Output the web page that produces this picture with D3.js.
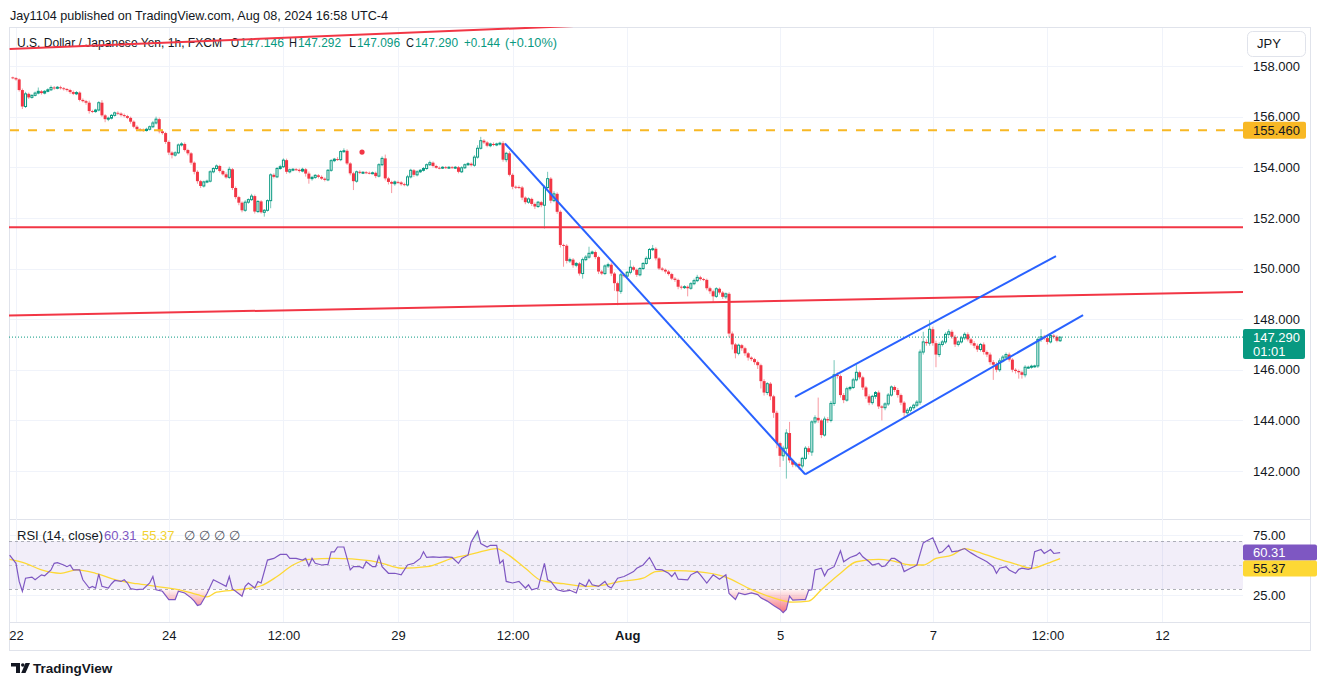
<!DOCTYPE html>
<html><head><meta charset="utf-8">
<script src="https://cdn.jsdelivr.net/npm/d3@7"></script>
<style>
body{margin:0;background:#fff;}
svg{display:block;font-family:"Liberation Sans",Arial,sans-serif;}
</style>
</head><body>
<svg id="chart" width="1320" height="685"></svg>
<script>
// ---------------- DATA ----------------
// hourly bars, index 0 = Jul 22 00:00 (UTC-4), weekends skipped
const firstBar = -1;
const firstOpen = 157.55;
const closes = [
157.52,157.47,157.05,156.40,156.90,156.76,156.84,156.93,157.00,156.93,
157.00,157.06,157.15,157.12,157.16,157.12,157.09,157.05,156.97,156.90,
156.95,156.66,156.61,156.55,156.22,156.20,156.26,156.55,156.05,155.90,
155.94,156.05,156.15,156.12,156.06,156.02,155.95,155.80,155.60,155.50,
155.48,155.45,155.50,155.60,155.75,155.90,155.42,155.35,155.00,154.58,
154.48,154.57,154.88,154.92,154.68,154.55,154.18,153.82,153.45,153.26,
153.42,153.45,153.82,153.95,154.05,153.85,153.72,153.60,153.92,153.18,
152.82,152.60,152.30,152.62,152.72,152.86,152.25,152.65,152.22,152.30,
152.68,153.70,153.62,153.95,154.02,154.28,153.82,153.90,153.92,153.90,
153.85,153.92,153.75,153.55,153.60,153.68,153.62,153.55,153.50,153.88,
154.26,154.32,154.30,154.62,154.65,154.15,153.76,153.45,153.82,153.78,
153.80,153.78,153.77,153.78,153.65,154.10,154.35,153.56,153.42,153.35,
153.42,153.40,153.33,153.30,153.62,153.88,153.70,153.82,153.88,153.95,
154.10,154.18,154.05,153.98,153.97,154.00,153.98,154.00,153.99,154.00,
153.82,153.98,154.10,154.14,154.08,154.40,154.75,155.05,154.98,154.85,
154.92,154.88,154.92,154.95,154.30,154.55,153.70,153.23,153.22,153.20,
152.80,152.62,152.75,152.55,152.45,152.62,152.50,153.20,153.55,152.68,
152.95,152.24,150.93,150.90,150.30,150.35,150.13,150.20,149.80,150.35,
150.45,150.60,150.65,150.45,149.88,149.80,150.10,150.15,149.80,149.42,
149.10,149.75,149.70,149.85,150.05,149.95,149.75,150.00,150.20,150.40,
150.75,150.78,150.40,150.00,149.95,149.88,149.78,149.60,149.55,149.28,
149.25,149.28,149.22,149.40,149.52,149.65,149.58,149.55,149.22,149.10,
148.90,149.20,149.05,148.88,149.00,147.43,147.00,146.65,146.97,146.85,
146.65,146.48,146.42,146.30,146.18,145.55,145.10,145.45,144.95,144.30,
143.10,142.60,142.90,143.50,142.42,142.25,142.28,142.20,142.50,142.90,
142.75,143.94,144.10,144.00,143.42,144.05,144.00,144.67,145.80,145.75,
145.00,144.80,145.25,145.30,145.60,145.90,145.70,145.30,144.95,144.70,
144.95,145.10,144.55,144.50,144.65,145.00,145.32,145.20,145.00,144.70,
144.30,144.40,144.50,144.60,144.72,146.70,147.10,147.05,147.60,147.05,
146.60,147.00,147.10,147.40,147.50,147.30,147.00,147.10,147.26,147.40,
147.20,147.05,146.95,146.80,147.00,146.70,146.60,146.30,146.20,146.00,
146.35,146.50,146.60,146.40,146.00,145.95,145.90,145.80,146.10,146.10,
146.14,146.15,147.20,147.30,147.25,147.10,147.35,147.30,147.146,147.290
];
// wick lengths above / below the body, in pips (0.01 JPY)
const upperWick = [
3,4,4,6,8,5,4,6,15,5, 5,6,8,6,5,6,5,4,5,6, 6,5,6,5,8,5,5,6,10,5, 6,5,5,6,5,6,5,5,5,6,
5,5,6,5,8,10,6,5,5,6, 5,6,6,7,6,5,5,5,6,5, 5,6,6,5,6,5,5,8,10,5, 6,5,5,8,5,9,6,5,5,5,
5,6,6,6,8,7,6,5,5,5, 5,6,5,8,6,5,5,6,5,5, 6,5,8,6,10,6,5,6,5,6, 5,5,5,5,5,6,8,15,6,5,
6,5,5,6,8,6,5,6,5,6, 5,8,5,5,5,4,5,4,5,5, 5,6,5,6,5,8,12,15,6,5, 5,6,5,6,8,6,8,6,5,6,
6,5,6,5,6,5,5,8,27,6, 10,6,6,5,6,8,6,6,6,8, 8,26,6,6,5,6,6,8,8,6, 6,8,6,5,28,6,5,6,5,8,
6,15,6,5,6,5,6,5,6,5, 5,6,5,6,8,10,6,5,5,6, 6,6,5,6,5,6,8,6,6,5, 6,5,5,5,6,6,8,6,6,6,
8,6,10,15,44,6,8,6,6,8, 8,6,10,80,6,10,8,10,58,10, 6,8,8,6,8,30,6,6,6,8, 6,6,8,5,6,8,6,6,8,6,
6,8,6,6,8,10,40,10,36,10, 10,8,8,8,10,8,8,6,8,8, 8,6,8,8,6,8,6,8,8,10, 10,8,8,8,6,6,6,6,8,6,
6,5,8,30,8,8,8,6,6,0.2
];
const lowerWick = [
4,5,6,10,6,6,5,4,5,6, 5,4,5,6,4,5,6,6,7,5, 5,6,5,8,10,6,5,5,6,12, 8,5,5,6,6,5,5,8,6,7,
6,5,4,5,5,6,8,6,8,10, 13,6,5,6,6,8,8,10,10,8, 6,5,5,6,5,6,5,5,6,8, 8,10,8,6,6,5,8,6,5,17,
5,30,6,5,5,5,8,6,6,5, 6,5,12,20,8,6,6,5,6,5, 6,6,5,6,5,6,8,35,6,5, 5,5,5,5,8,5,6,8,10,37,
8,6,6,5,6,6,8,6,5,5, 5,5,6,4,5,4,5,4,5,6, 6,5,5,5,5,6,6,5,6,6, 6,5,5,6,8,10,6,10,8,6,
10,8,6,8,10,6,8,92,8,10, 6,8,10,83,10,8,10,8,8,20, 6,6,5,8,10,6,6,8,10,30, 55,10,6,6,8,6,8,6,6,5,
6,6,8,6,6,8,6,6,8,10, 8,6,32,6,6,6,6,5,8,10, 22,6,8,8,8,15,20,20,8,10, 10,12,8,10,15,29,12,10,15,20,
20,44,20,120,10,10,10,15,10,6, 10,15,8,10,12,6,10,8,10,10, 10,12,6,8,6,6,8,10,10,10, 8,10,10,50,10,8,6,8,10,10,
16,10,8,8,8,10,10,10,10,10, 50,10,8,8,6,8,10,8,6,8, 8,8,10,10,8,10,10,10,60,10, 8,6,6,8,10,10,25,15,10,6,
6,6,8,10,8,10,6,8,6,5
];

const priceTicks = [142,144,146,148,150,152,154,156,158];
const timeTickBars = [0,48,84,120,156,192,240,288,324,360];
const timeTickLabels = ["22","24","12:00","29","12:00","Aug","5","7","12:00","12"];

// RSI(14)
const rsiBars = [
-2,0,1,2,3,5,6,8,9,11, 12,13,15,16,17,18,20,21,23,24, 25,26,27,29,30,31,33,34,35,36,
38,40,42,43,44,46,48,50,51,53, 55,56,57,58,60,62,64,66,67,68, 69,71,72,73,75,76,77,79,81,83,
85,86,88,90,91,92,93,94,96,98, 99,100,101,103,104,105,106,108,109,110, 112,113,114,115,117,119,121,123,125,127,
128,129,131,133,135,137,139,140,142,143, 145,146,148,149,151,152,153,154,156,158, 160,161,162,164,166,167,168,170,172,174,
176,177,179,180,181,183,185,186,187,189, 191,193,194,195,197,199,200,201,203,205, 206,207,208,211,212,214,215,217,219,221,
223,224,226,227,229,231,233,234,236,238, 240,241,242,243,244,247,248,249,250,251, 253,254,255,257,259,260,262,264,265,266,
268,269,271,272,273,275,276,278,279,281, 282,283,285,286,288,290,291,293,294,296, 298,300,302,304,305,307,308,309,311,312,
314,315,316,318,319,320,322,323,325,326, 328
];
const rsiValues = [
58.2,51.4,36.3,28.1,39.0,39.9,37.7,41.8,41.0,45.9, 51.4,51.9,50.0,48.6,50.0,45.9,45.9,37.7,30.8,32.2, 30.8,42.6,32.2,30.8,34.4,37.1,36.3,37.7,35.0,30.3,
29.4,30.0,35.0,40.4,29.4,28.1,21.2,21.2,28.1,26.7, 22.6,19.9,16.3,17.1,26.2,37.7,35.0,32.2,40.4,30.0, 28.1,24.0,32.2,35.0,30.8,36.3,35.0,54.1,55.5,58.8,
58.8,55.5,55.5,54.1,55.5,49.2,55.5,51.4,50.0,50.5, 61.0,61.0,65.0,65.0,55.5,45.9,48.6,48.6,47.3,52.7, 48.6,48.6,57.4,48.6,43.1,43.1,41.8,50.0,51.4,55.5,
61.0,56.3,56.8,56.3,56.8,56.3,51.4,55.5,58.2,69.2, 78.2,67.8,65.0,66.4,66.4,51.4,54.1,36.3,35.0,36.3, 30.8,33.5,29.4,30.8,51.4,37.7,36.3,29.4,28.1,28.9,
26.7,35.0,32.2,37.7,33.5,32.2,36.3,32.2,30.8,39.0, 40.4,43.1,44.5,47.3,50.0,56.3,51.4,46.4,45.9,43.1, 40.4,43.7,38.2,37.7,41.8,44.5,41.8,35.0,41.8,38.2,
41.8,26.2,21.2,26.7,25.3,26.7,25.3,22.6,19.9,16.3, 13.0,10.3,13.0,24.0,20.7,21.2,21.2,28.9,29.4,45.9, 47.3,41.0,45.9,48.6,61.8,52.7,56.3,58.2,60.4,56.8,
52.7,50.0,51.4,48.6,49.2,55.5,55.5,51.9,44.5,47.3, 48.6,50.0,68.4,70.0,72.7,60.1,61.0,66.4,61.0,61.8, 63.7,60.1,56.8,54.1,52.7,48.6,43.1,47.3,48.6,45.9,
43.1,46.4,47.3,46.4,47.3,61.0,62.9,59.6,62.9,59.6, 60.31
];
const rsiMaBars = [-2,3,8,14,19,25,32,38,44,52,57,60,63,70,77,82,87,92,100,111,115,121,129,137,144,151,154,160,165,172,
179,185,190,197,201,207,214,223,230,237,244,249,253,259,264,271,275,281,285,289,294,298,302,308,314,319,324,328];
const rsiMaValues = [54.7,51.4,45.9,43.1,45.9,43.1,37.1,34.4,32.2,28.9,25.3,23.4,27.3,29.4,32.7,40.4,50.0,54.7,55.5,53.6,
51.4,47.3,48.6,55.5,59.6,63.7,59.6,47.3,37.1,34.4,32.2,33.5,36.3,39.0,44.5,45.3,44.5,39.9,30.8,23.4,
19.0,19.9,29.4,43.1,52.7,54.7,53.6,50.0,50.0,55.5,58.2,63.7,61.0,55.5,50.8,47.3,51.4,55.37];

// drawings (bar index, price)
const trendDownBars = [153.6, 247.9], trendDownPrices = [154.94, 141.87];
const chanLowBars = [247.9, 335.2], chanLowPrices = [141.87, 148.16];
const chanHighBars = [244.7, 326.7], chanHighPrices = [144.93, 150.49];
const redSlopeBars = [-2.2, 385.5], redSlopePrices = [148.14, 149.07];
const redTopBars = [-2.0, 200], redTopPrices = [158.67, 159.707];
const redHLine = 151.63;
const orangeHLine = 155.46;
const dotBar = 108.7, dotPrice = 154.6;
const lastPrice = 147.290, lastRsi = 60.31, lastRsiMa = 55.37;
const legendParts = ["U.S. Dollar / Japanese Yen, 1h, FXCM","O","147.146","H","147.292","L","147.096","C","147.290","+0.144","(+0.10%)"];

// ---------------- LAYOUT ----------------
const plotL = 9, plotR = 1243, frameR = 1310;
const mainT = 27, mainB = 519, rsiT = 520, rsiB = 622, axisB = 650;
const C = {up:"#089981", down:"#f23645", text:"#131722", grid:"#f0f3fa", border:"#e0e3eb",
  blue:"#2962ff", orange:"#f8b824", purple:"#7e57c2", yellow:"#fdd835"};

const x = d3.scaleLinear().domain([0, 360]).range([16, 1162]);
const y = d3.scaleLinear().domain([142, 158]).range([471, 66]);
const ry = d3.scaleLinear().domain([30, 70]).range([589, 541]);

const svg = d3.select("#chart");
const defs = svg.append("defs");
function clip(id, x0, y0, w, h){ defs.append("clipPath").attr("id", id).append("rect").attr("x",x0).attr("y",y0).attr("width",w).attr("height",h); }
clip("cMain", plotL, mainT, plotR-plotL, mainB-mainT);
clip("cRsi", plotL, rsiT, plotR-plotL, rsiB-rsiT);
clip("cLow", plotL, ry(30), plotR-plotL, rsiB-ry(30));
clip("cHigh", plotL, rsiT, plotR-plotL, ry(70)-rsiT);
const gRed = defs.append("linearGradient").attr("id","gRed").attr("gradientUnits","userSpaceOnUse")
  .attr("x1",0).attr("x2",0).attr("y1",ry(30)).attr("y2",ry(12));
gRed.append("stop").attr("offset",0).attr("stop-color",C.down).attr("stop-opacity",0.03);
gRed.append("stop").attr("offset",1).attr("stop-color",C.down).attr("stop-opacity",0.65);
const gGreen = defs.append("linearGradient").attr("id","gGreen").attr("gradientUnits","userSpaceOnUse")
  .attr("x1",0).attr("x2",0).attr("y1",ry(70)).attr("y2",ry(85));
gGreen.append("stop").attr("offset",0).attr("stop-color",C.up).attr("stop-opacity",0.03);
gGreen.append("stop").attr("offset",1).attr("stop-color",C.up).attr("stop-opacity",0.6);

// frame
svg.append("rect").attr("x",plotL+0.5).attr("y",mainT+0.5).attr("width",frameR-plotL).attr("height",axisB-mainT)
  .attr("fill","none").attr("stroke",C.border);
svg.append("line").attr("x1",plotL).attr("x2",frameR).attr("y1",rsiT-0.5).attr("y2",rsiT-0.5).attr("stroke",C.border);
svg.append("line").attr("x1",plotL).attr("x2",frameR).attr("y1",rsiB+0.5).attr("y2",rsiB+0.5).attr("stroke",C.border);

// grid
svg.append("g").selectAll("line").data(priceTicks).join("line")
  .attr("x1",plotL+1).attr("x2",plotR).attr("y1",d=>Math.round(y(d))+0.5).attr("y2",d=>Math.round(y(d))+0.5)
  .attr("stroke",C.grid);
svg.append("g").selectAll("line").data([25,75]).join("line")
  .attr("x1",plotL+1).attr("x2",plotR).attr("y1",d=>Math.round(ry(d))+0.5).attr("y2",d=>Math.round(ry(d))+0.5)
  .attr("stroke",C.grid);
svg.append("g").selectAll("line").data(timeTickBars).join("line")
  .attr("x1",d=>Math.round(x(d))+0.5).attr("x2",d=>Math.round(x(d))+0.5).attr("y1",mainT+1).attr("y2",rsiB)
  .attr("stroke",C.grid);

// candles
const bars = closes.map((c,k)=>{
  const o = k ? closes[k-1] : firstOpen;
  return {i: firstBar+k, o, c, h: Math.max(o,c)+upperWick[k]/100, l: Math.min(o,c)-lowerWick[k]/100};
});
const gc = svg.append("g").attr("clip-path","url(#cMain)");
gc.selectAll("line.w").data(bars).join("line").attr("class","w")
  .attr("x1",d=>x(d.i)).attr("x2",d=>x(d.i)).attr("y1",d=>y(d.h)).attr("y2",d=>y(d.l))
  .attr("stroke",d=>d.c>=d.o?"rgba(8,153,129,0.55)":"rgba(242,54,69,0.5)").attr("stroke-width",1);
gc.selectAll("rect.b").data(bars).join("rect").attr("class","b")
  .attr("x",d=>d.c>=d.o? x(d.i)-1 : x(d.i)-1.5)
  .attr("width",d=>d.c>=d.o?2:3)
  .attr("y",d=>y(Math.max(d.o,d.c)))
  .attr("height",d=>Math.max(Math.abs(y(d.o)-y(d.c)), 0.9))
  .attr("fill",d=>d.c>=d.o ? (Math.abs(y(d.o)-y(d.c))>2 ? "#fff" : C.up) : C.down)
  .attr("stroke",d=>d.c>=d.o?C.up:"none").attr("stroke-width",1);

// header texts
svg.append("text").attr("x",10).attr("y",20).attr("font-size",13).attr("fill",C.text)
  .attr("textLength",378).attr("lengthAdjust","spacingAndGlyphs")
  .text("Jay1104 published on TradingView.com, Aug 08, 2024 16:58 UTC-4");
// legend: [x start, width] per part
const legendX = [17,231,240,289,298,349,357,406,415,464,505];
const legendW = [205,8,44,8,43,7,43,8,43,36,52];
const lg = svg.append("g");
legendParts.forEach((t,k)=>lg.append("text").attr("x",legendX[k]).attr("y",47)
  .attr("font-size", k===0 ? 12 : 12.5)
  .attr("fill", (k===0||k===1||k===3||k===5||k===7)?C.text:C.up)
  .attr("textLength",legendW[k]).attr("lengthAdjust","spacingAndGlyphs").text(t));

// drawings
const gd = svg.append("g").attr("clip-path","url(#cMain)");
const ln = d3.line().x(d=>x(d[0])).y(d=>y(d[1]));
function seg(bs, ps, col, w, dash){
  gd.append("path").attr("d", ln(bs.map((b,k)=>[b,ps[k]]))).attr("stroke",col).attr("stroke-width",w)
    .attr("fill","none").attr("stroke-dasharray",dash||null);
}
gd.append("line").attr("x1",plotL).attr("x2",plotR).attr("y1",y(lastPrice)).attr("y2",y(lastPrice))
  .attr("stroke",C.up).attr("stroke-dasharray","1,2").attr("stroke-width",1);
gd.append("line").attr("x1",plotL+1).attr("x2",plotR).attr("y1",y(orangeHLine)).attr("y2",y(orangeHLine))
  .attr("stroke",C.orange).attr("stroke-width",2).attr("stroke-dasharray","9,9");
gd.append("line").attr("x1",plotL).attr("x2",plotR).attr("y1",y(redHLine)).attr("y2",y(redHLine))
  .attr("stroke",C.down).attr("stroke-width",2);
seg(redSlopeBars, redSlopePrices, C.down, 2);
seg(redTopBars, redTopPrices, C.down, 2);
seg(trendDownBars, trendDownPrices, C.blue, 2);
seg(chanLowBars, chanLowPrices, C.blue, 2);
seg(chanHighBars, chanHighPrices, C.blue, 2);
gd.append("circle").attr("cx",x(dotBar)).attr("cy",y(dotPrice)).attr("r",2.6).attr("fill",C.down);

// price axis
const pa = svg.append("g").attr("transform",`translate(${plotR},0)`)
  .call(d3.axisRight(y).tickValues(priceTicks).tickFormat(d=>d.toFixed(3)).tickSize(0).tickPadding(10));
pa.select(".domain").remove();
pa.selectAll("text").attr("font-size",13).attr("fill",C.text).attr("font-family","Liberation Sans, Arial, sans-serif");

// JPY button
svg.append("rect").attr("x",1247.5).attr("y",31.5).attr("width",58).attr("height",25).attr("rx",5)
  .attr("fill","#fff").attr("stroke",C.border);
svg.append("text").attr("x",1257).attr("y",48).attr("font-size",13).attr("fill",C.text).text("JPY");

// price labels
svg.append("rect").attr("x",plotR).attr("y",y(orangeHLine)-8.5).attr("width",63).attr("height",17).attr("rx",2).attr("fill",C.orange);
svg.append("text").attr("x",1253).attr("y",y(orangeHLine)+4.5).attr("font-size",13).attr("fill",C.text).text(orangeHLine.toFixed(3));
svg.append("rect").attr("x",plotR).attr("y",y(lastPrice)-8).attr("width",62).attr("height",30).attr("rx",2).attr("fill",C.up);
svg.append("text").attr("x",1253).attr("y",y(lastPrice)+5).attr("font-size",13).attr("fill","#fff").text(lastPrice.toFixed(3));
svg.append("text").attr("x",1253).attr("y",y(lastPrice)+19).attr("font-size",13).attr("fill","#fff").text("01:01");

// ---------------- RSI PANE ----------------
const gr = svg.append("g").attr("clip-path","url(#cRsi)");
gr.append("rect").attr("x",plotL).attr("width",plotR-plotL).attr("y",ry(70)).attr("height",ry(30)-ry(70))
  .attr("fill","rgba(126,87,194,0.1)");
[[70,0.75],[50,0.45],[30,0.75]].forEach(([v,op])=>gr.append("line").attr("x1",plotL).attr("x2",plotR)
  .attr("y1",Math.round(ry(v))+0.5).attr("y2",Math.round(ry(v))+0.5).attr("stroke","#9598a1")
  .attr("stroke-opacity",op).attr("stroke-dasharray","3,3"));
const rsiPts = rsiBars.map((b,k)=>[b, rsiValues[k]]);
gr.append("path").attr("clip-path","url(#cLow)")
  .attr("d", d3.area().x(d=>x(d[0])).y0(ry(30)).y1(d=>ry(d[1]))(rsiPts)).attr("fill","url(#gRed)");
gr.append("path").attr("clip-path","url(#cHigh)")
  .attr("d", d3.area().x(d=>x(d[0])).y0(ry(70)).y1(d=>ry(d[1]))(rsiPts)).attr("fill","url(#gGreen)");
gr.append("path").attr("d", d3.line().x(d=>x(d[0])).y(d=>ry(d[1])).curve(d3.curveMonotoneX)(rsiMaBars.map((b,k)=>[b,rsiMaValues[k]])))
  .attr("fill","none").attr("stroke",C.yellow).attr("stroke-width",1.3);
gr.append("path").attr("d", d3.line().x(d=>x(d[0])).y(d=>ry(d[1]))(rsiPts))
  .attr("fill","none").attr("stroke",C.purple).attr("stroke-width",1.2);

const ra = svg.append("g").attr("transform",`translate(${plotR},0)`)
  .call(d3.axisRight(ry).tickValues([25,75]).tickFormat(d=>d.toFixed(2)).tickSize(0).tickPadding(10));
ra.select(".domain").remove();
ra.selectAll("text").attr("font-size",13).attr("fill",C.text).attr("font-family","Liberation Sans, Arial, sans-serif");

svg.append("rect").attr("x",plotR).attr("y",544.5).attr("width",74).attr("height",16).attr("rx",2).attr("fill",C.purple);
svg.append("text").attr("x",1253).attr("y",557).attr("font-size",13).attr("fill","#fff").text(lastRsi.toFixed(2));
svg.append("rect").attr("x",plotR).attr("y",560.5).attr("width",74).attr("height",16).attr("rx",2).attr("fill",C.yellow);
svg.append("text").attr("x",1253).attr("y",573).attr("font-size",13).attr("fill",C.text).text(lastRsiMa.toFixed(2));

const rl = svg.append("text").attr("y",540).attr("font-size",13);
[["RSI (14, close)",17,C.text],[lastRsi.toFixed(2),104,C.purple],[lastRsiMa.toFixed(2),142,"#f2d230"],
 ["∅",184,"#50535e"],["∅",199,"#50535e"],["∅",214,"#50535e"],["∅",229,"#50535e"]]
 .forEach(([t,px,col])=>rl.append("tspan").attr("x",px).attr("fill",col).text(t));

// ---------------- TIME AXIS ----------------
const ta = svg.append("g").attr("transform",`translate(0,${rsiB})`)
  .call(d3.axisBottom(x).tickValues(timeTickBars).tickFormat((d,k)=>timeTickLabels[k]).tickSize(0).tickPadding(9));
ta.select(".domain").remove();
ta.selectAll("text").attr("font-size",13).attr("fill",C.text).attr("font-family","Liberation Sans, Arial, sans-serif")
  .attr("font-weight",(d,k)=>timeTickLabels[k]==="Aug"?"bold":null);

// TradingView logo
const lgG = svg.append("g").attr("fill",C.text);
lgG.append("path").attr("d","M11 663h9v10h-4v-6.5h-5z");
lgG.append("circle").attr("cx",22.8).attr("cy",665).attr("r",1.8);
lgG.append("path").attr("d","M25.5 663h4.5l-4.5 10h-4.3z");
svg.append("text").attr("x",33).attr("y",673).attr("font-size",13.5).attr("font-weight",600).attr("fill",C.text).text("TradingView");
</script>
</body></html>
